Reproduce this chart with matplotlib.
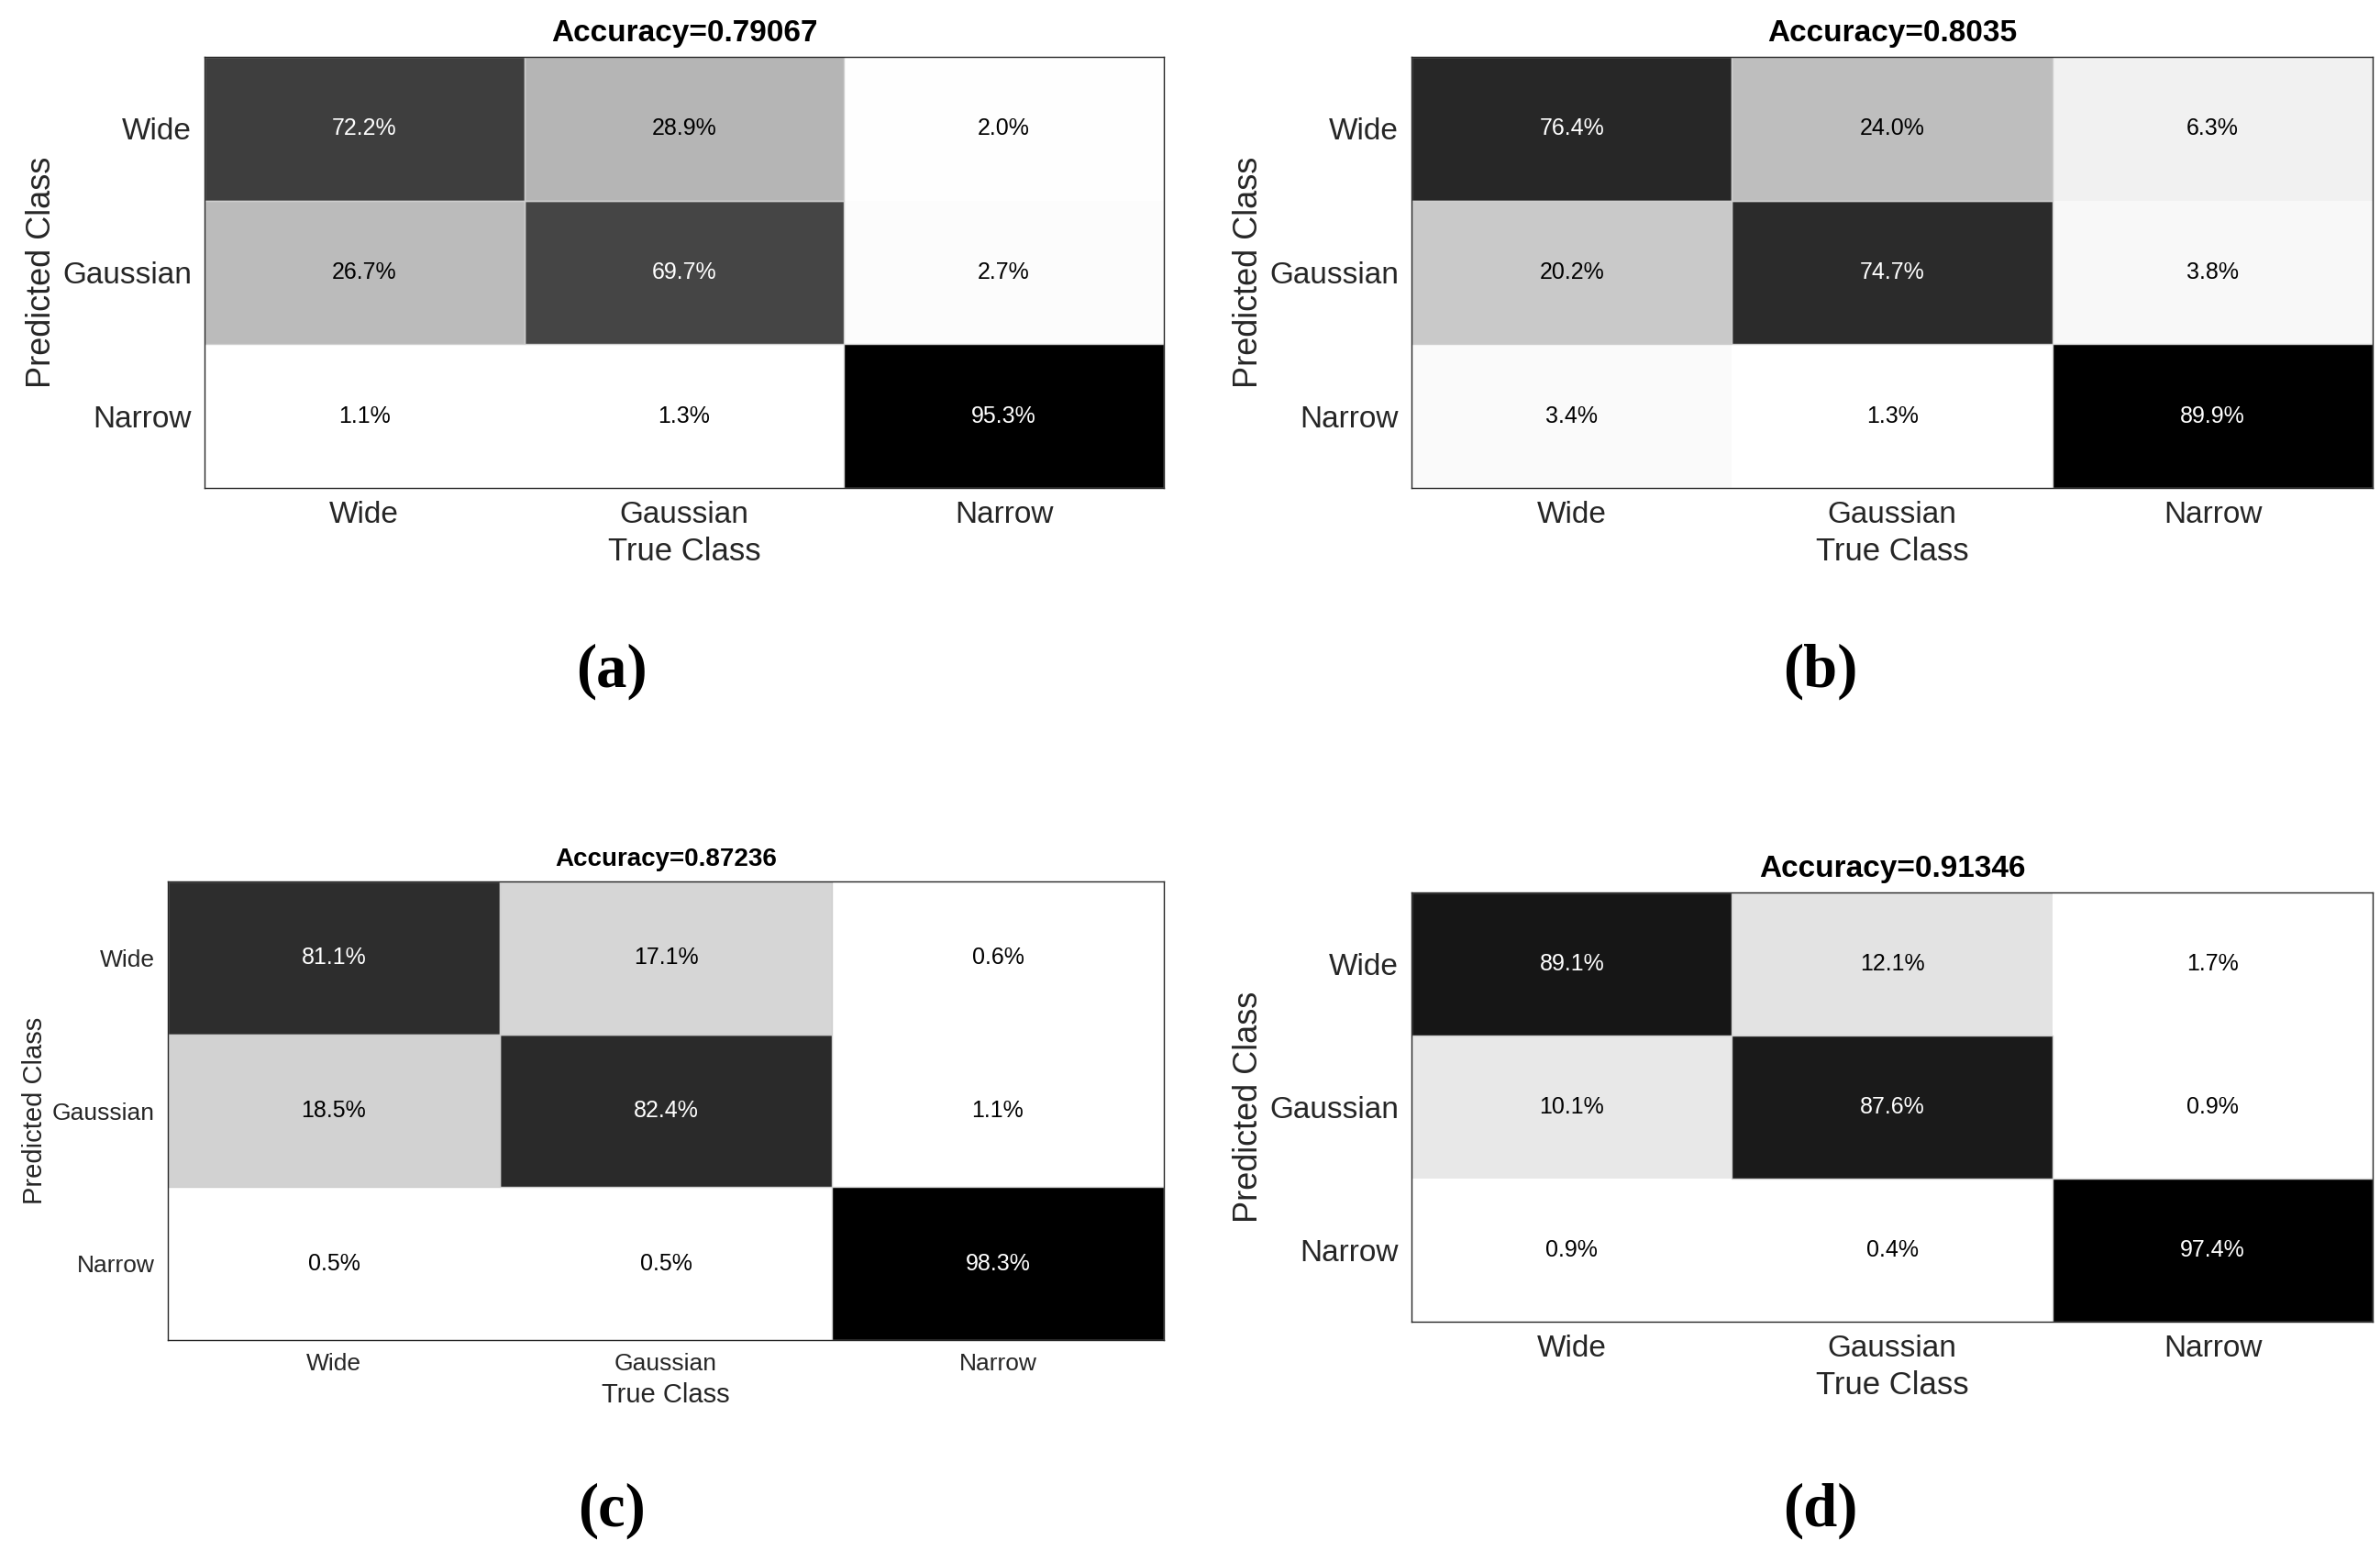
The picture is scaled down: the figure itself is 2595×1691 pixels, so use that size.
import numpy as np
import matplotlib
matplotlib.use('Agg')
import matplotlib.pyplot as plt
from matplotlib.colors import LinearSegmentedColormap

# ── Data ──────────────────────────────────────────────────────────
CLASSES = ['Wide', 'Gaussian', 'Narrow']

# rows = predicted class, cols = true class (percent)
cm_a = [[72.2, 28.9, 2.0],
        [26.7, 69.7, 2.7],
        [1.1, 1.3, 95.3]]
cm_b = [[76.4, 24.0, 6.3],
        [20.2, 74.7, 3.8],
        [3.4, 1.3, 89.9]]
cm_c = [[81.1, 17.1, 0.6],
        [18.5, 82.4, 1.1],
        [0.5, 0.5, 98.3]]
cm_d = [[89.1, 12.1, 1.7],
        [10.1, 87.6, 0.9],
        [0.9, 0.4, 97.4]]

acc_a = '0.79067'
acc_b = '0.8035'
acc_c = '0.87236'
acc_d = '0.91346'

plt.rcParams['font.family'] = ['Liberation Sans', 'DejaVu Sans']
cmap = LinearSegmentedColormap.from_list('wb', ['white', 'black'])

fig = plt.figure(figsize=(25.95, 16.91), dpi=100)
fig.patch.set_facecolor('white')


def draw_cm(rect, cm, acc, fs_tick, fs_cell, fs_title, fs_lab, fs_ylab):
    ax = fig.add_axes(rect)
    m = np.array(cm)
    vmax = m.max()
    # slight lift so near-zero cells read as white, like the source
    shade = np.clip((m - 0.015 * vmax) / (0.985 * vmax), 0, 1)
    ax.pcolormesh(np.arange(4), np.arange(4), shade, cmap=cmap, vmin=0, vmax=1,
                  edgecolors='face', linewidth=0)
    # faint separators only where a shaded cell sits
    for i in range(3):
        for j in range(3):
            if shade[i, j] > 0.15:
                ax.add_patch(plt.Rectangle((j, i), 1, 1, fill=False,
                                           edgecolor='#cfcfcf', linewidth=1.0))
    ax.set_xlim(0, 3)
    ax.set_ylim(3, 0)
    for i in range(3):
        for j in range(3):
            v = m[i, j]
            col = 'white' if v / vmax > 0.5 else 'black'
            ax.text(j + 0.5, i + 0.5, f'{v:.1f}%', ha='center', va='center',
                    fontsize=fs_cell, color=col)
    ax.set_xticks(np.arange(3) + 0.5)
    ax.set_yticks(np.arange(3) + 0.5)
    ax.set_xticklabels(CLASSES, fontsize=fs_tick, color='#262626')
    ax.set_yticklabels(CLASSES, fontsize=fs_tick, color='#262626')
    ax.tick_params(length=0, pad=10)
    for s in ax.spines.values():
        s.set_color('#262626')
        s.set_linewidth(1.0)
        s.set_zorder(5)
    ax.set_xlabel('True Class', fontsize=fs_lab, color='#262626', labelpad=6)
    ax.set_ylabel('Predicted Class', fontsize=fs_ylab, color='#262626', labelpad=4)
    ax.set_title(f'Accuracy={acc}', fontsize=fs_title, fontweight='bold', pad=12)
    return ax


draw_cm([0.0859, 0.6854, 0.4031, 0.2779], cm_a, acc_a, 24, 18, 24, 25, 26)
draw_cm([0.5931, 0.6854, 0.4039, 0.2779], cm_b, acc_b, 24, 18, 24, 25, 26)
draw_cm([0.0705, 0.1360, 0.4185, 0.2957], cm_c, acc_c, 19, 18, 20, 21, 21)
draw_cm([0.5931, 0.1478, 0.4039, 0.2768], cm_d, acc_d, 24, 18, 24, 25, 26)

# panel letters (y given from the top of the figure)
for x, y_top, s in [(0.257, 0.433, '(a)'), (0.765, 0.433, '(b)'),
                    (0.257, 0.974, '(c)'), (0.765, 0.974, '(d)')]:
    fig.text(x, 1 - y_top, s, ha='center', va='center', fontsize=48,
             fontweight='bold', family=['Liberation Serif', 'DejaVu Serif'])

fig.savefig('out.png', dpi=100, facecolor='white')
